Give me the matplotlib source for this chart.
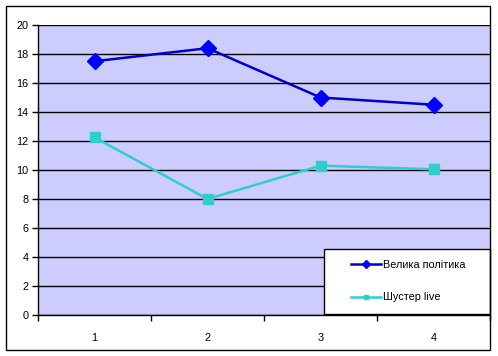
import matplotlib.pyplot as plt
from matplotlib.patches import Rectangle

categories = ["1", "2", "3", "4"]
velyka_polityka = [17.5, 18.4, 15.0, 14.5]
shuster_live = [12.25, 8.0, 10.3, 10.05]
series_names = ["Велика політика", "Шустер live"]

plt.rcParams['font.family'] = ['Liberation Sans', 'DejaVu Sans']

W, H = 498, 356
fig = plt.figure(figsize=(W / 100, H / 100), dpi=100)
fig.patch.set_facecolor('white')

# outer chart frame
fig.patches.append(Rectangle((5.5 / W, 1 - 349.5 / H), 484.5 / W, 344 / H,
                             transform=fig.transFigure, fill=False,
                             edgecolor='black', linewidth=1))

ax = fig.add_axes([38 / W, 1 - 315 / H, 452 / W, 290 / H])
ax.set_facecolor('#CCCCFF')

x = list(range(len(categories)))
ax.plot(x, velyka_polityka, color='#0000CC', linewidth=1.8, marker='D',
        markersize=8, markerfacecolor='#0000FF', markeredgecolor='#0000FF',
        label=series_names[0], zorder=3)
ax.plot(x, shuster_live, color='#33CCCC', linewidth=1.8, marker='s',
        markersize=6.5, markerfacecolor='#33CCCC', markeredgecolor='#33CCCC',
        label=series_names[1], zorder=3)

ax.set_xlim(-0.5, len(categories) - 0.5)
ax.set_ylim(0, 20)
ax.set_yticks(range(0, 21, 2))
ax.yaxis.grid(True, color='black', linewidth=1)
ax.set_axisbelow(True)

ax.set_xticks(x)
ax.set_xticklabels(categories)
ax.set_xticks([i - 0.5 for i in range(len(categories) + 1)], minor=True)
ax.tick_params(axis='x', which='major', length=0, pad=13, labelsize=7.8)
ax.tick_params(axis='x', which='minor', length=4, direction='out', width=1)
ax.tick_params(axis='y', length=4, width=1, direction='out', labelsize=7.8, pad=3)

for s in ['top', 'right']:
    ax.spines[s].set_visible(False)
ax.spines['left'].set_linewidth(1)
ax.spines['bottom'].set_linewidth(1)

# legend box drawn separately, entries sit in its right part
box = Rectangle((323.5 / W, 1 - 313.5 / H), 166 / W, 65 / H,
                transform=fig.transFigure, facecolor='white',
                edgecolor='black', linewidth=1, zorder=5, clip_on=False)
ax.add_artist(box)
leg = ax.legend(loc='center left',
                bbox_to_anchor=(351 / W, 1 - 281 / H),
                bbox_transform=fig.transFigure,
                frameon=False, fontsize=7.8, labelspacing=2.1,
                handlelength=2.8, handletextpad=0.15,
                borderpad=0, borderaxespad=0, markerscale=0.5)
leg.set_zorder(6)
for line in leg.get_lines():
    line.set_linewidth(1.8)

fig.savefig('out.png', dpi=100)
